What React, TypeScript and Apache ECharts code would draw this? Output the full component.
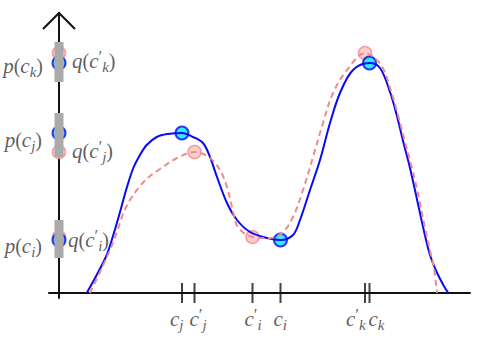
import React, { useEffect, useRef } from "react";
import * as echarts from "echarts";

// Marked x positions on the horizontal axis (c_j, c'_j, c'_i, c_i, c'_k, c_k)
const tickLabels = [
  "{m|c}{s|j}",
  "{m|c}{pr|′}{s|j}",
  "{m|c}{pr|′}{s|i}",
  "{m|c}{s|i}",
  "{m|c}{pr|′}{s|k}",
  "{m|c}{s|k}",
];
const tickX = [12.3, 13.55, 19.35, 22.15, 30.6, 31.05];

// p evaluated at c_j, c_i, c_k
const pX = [12.3, 22.15, 31.05];
const pY = [16.0, 5.3, 23.0];
const pLabels = ["{m|p}{r|(}{m|c}{s|j}{r|)}", "{m|p}{r|(}{m|c}{s|i}{r|)}", "{m|p}{r|(}{m|c}{s|k}{r|)}"];

// q evaluated at c'_j, c'_i, c'_k
const qX = [13.55, 19.35, 30.6];
const qY = [14.1, 5.6, 24.0];
const qLabels = [
  "{m|q}{r|(}{m|c}{pr|′}{s|j}{r|)}",
  "{m|q}{r|(}{m|c}{pr|′}{s|i}{r|)}",
  "{m|q}{r|(}{m|c}{pr|′}{s|k}{r|)}",
];

// gray intervals on the vertical axis [low, high]
const grayBars = [
  [13.6, 18.0],
  [3.5, 7.3],
  [21.1, 25.1],
];

// curve p (blue solid)
const pCurve: [number, number][] = [
  [2.77, 0], [3.77, 1.8], [4.77, 3.8], [5.43, 5.8], [6.1, 8.1], [6.77, 10.5],
  [7.43, 12.5], [8.1, 13.8], [8.77, 14.8], [9.77, 15.6], [10.9, 15.9],
  [12.3, 16.0], [13.4, 15.6], [14.4, 15.0], [15.1, 13.6], [15.8, 11.6],
  [16.8, 9.0], [17.8, 7.3], [19.1, 6.1], [20.8, 5.5], [22.15, 5.3],
  [23.4, 5.8], [24.1, 7.3], [25.1, 10.3], [26.1, 13.3], [27.1, 17.0],
  [28.1, 20.0], [29.4, 22.3], [31.05, 23.0], [32.1, 22.5], [33.1, 20.1],
  [33.77, 17.8], [34.43, 15.1], [35.1, 12.5], [35.77, 9.5], [36.43, 6.5],
  [37.1, 3.8], [37.77, 2.1], [38.43, 0.8], [38.93, 0],
];

// curve q (pink dashed)
const qCurve: [number, number][] = [
  [3.1, 0], [4.1, 2.1], [5.1, 4.3], [5.8, 6.1], [6.4, 7.9], [7.1, 9.3],
  [8.1, 10.7], [9.1, 11.7], [10.1, 12.4], [11.8, 13.5], [13.55, 14.1],
  [15.1, 13.5], [16.1, 12.3], [16.8, 10.6], [17.3, 8.6], [17.9, 6.6],
  [19.35, 5.6], [21.1, 5.5], [22.4, 6.1], [23.4, 7.6], [24.4, 10.3],
  [25.4, 13.6], [26.4, 17.0], [27.4, 20.0], [28.8, 22.3], [30.6, 24.0],
  [32.2, 22.8], [33.2, 20.2], [33.9, 17.8], [34.6, 15.1], [35.3, 12.5],
  [36.0, 9.5], [36.6, 6.5], [37.2, 3.8], [37.5, 2.5], [37.8, 0],
];

// label placement (pixels relative to the mark)
const tickLabelShift = [-12, -5, -8, -7, -19, -1];
const pLabelShift = [[-17, 7], [-17, 6], [-16, 3]];
const qLabelShift = [[13, -1], [9, 3], [13, 8]];

const FONT = "Liberation Serif";
const rich = {
  m: { fontFamily: FONT, fontStyle: "italic", fontSize: 21, color: "#333" },
  r: { fontFamily: FONT, fontSize: 20, color: "#333" },
  s: { fontFamily: FONT, fontStyle: "italic", fontSize: 15, color: "#333", padding: [12, 0, 0, 0] },
  pr: { fontFamily: FONT, fontSize: 17, color: "#333", padding: [0, 0, 10, 0] },
};

const BLUE = "#0a0af0";
const CYAN = "#00e5ff";
const PINK = "#f28a8a";
const PINK_FILL = "#f9c2c2";

export default function App() {
  const ref = useRef<HTMLDivElement>(null);
  useEffect(() => {
    if (!ref.current) return;
    const chart = echarts.init(ref.current, null, { renderer: "svg" });
    const series: any[] = [];
    grayBars.forEach((b) => {
      series.push({
        type: "line",
        data: [[0, b[0]], [0, b[1]]],
        symbol: "none",
        lineStyle: { color: "#aaaaaa", width: 9, cap: "butt" },
        silent: true,
      });
    });
    series.push({
      type: "line",
      data: pCurve,
      smooth: 0.35,
      symbol: "none",
      lineStyle: { color: BLUE, width: 2 },
      silent: true,
    });
    series.push({
      type: "line",
      data: qCurve,
      smooth: 0.35,
      symbol: "none",
      lineStyle: { color: PINK, width: 2, type: [6, 4] },
      silent: true,
    });
    // pink points (curve + projected on axis)
    series.push({
      type: "scatter",
      symbolSize: 13,
      itemStyle: { color: PINK_FILL, borderColor: PINK, borderWidth: 1.5 },
      data: [
        ...qX.map((x, i) => [x, qY[i]]),
        ...qY.map((y, i) => ({
          value: [0, y],
          label: {
            show: true,
            position: "inside",
            align: "left",
            verticalAlign: "middle",
            offset: qLabelShift[i],
            formatter: qLabels[i],
            rich,
          },
        })),
      ],
      silent: true,
    });
    // blue points
    series.push({
      type: "scatter",
      symbolSize: 13,
      itemStyle: { color: CYAN, borderColor: BLUE, borderWidth: 2 },
      data: [
        ...pX.map((x, i) => [x, pY[i]]),
        ...pY.map((y, i) => ({
          value: [0, y],
          label: {
            show: true,
            position: "inside",
            align: "right",
            verticalAlign: "middle",
            offset: pLabelShift[i],
            formatter: pLabels[i],
            rich,
          },
        })),
      ],
      silent: true,
    });
    // axis ticks at c's
    series.push({
      type: "scatter",
      symbol: "rect",
      symbolSize: [2, 20],
      itemStyle: { color: "#111" },
      data: tickX.map((x, i) => ({
        value: [x, 0],
        label: {
          show: true,
          position: "inside",
          align: "left",
          verticalAlign: "middle",
          offset: [tickLabelShift[i], 26],
          formatter: tickLabels[i],
          rich,
        },
      })),
      silent: true,
    });

    chart.setOption({
      animation: false,
      grid: { left: 49, right: 17, top: 13, bottom: 47 },
      xAxis: {
        type: "value",
        min: -1,
        max: 41.1,
        axisLine: { onZero: true, lineStyle: { color: "#111", width: 2 } },
        axisTick: { show: false },
        axisLabel: { show: false },
        splitLine: { show: false },
      },
      yAxis: {
        type: "value",
        min: -0.5,
        max: 28,
        axisLine: { show: true, onZero: true, lineStyle: { color: "#111", width: 2 } },
        axisTick: { show: false },
        axisLabel: { show: false },
        splitLine: { show: false },
      },
      series,
    });
    const tip = chart.convertToPixel({ gridIndex: 0 }, [0, 28]) as number[];
    chart.setOption({
      graphic: [
        {
          type: "polyline",
          shape: { points: [[tip[0] - 16, tip[1] + 16], [tip[0], tip[1]], [tip[0] + 16, tip[1] + 16]] },
          style: { stroke: "#111", lineWidth: 2, fill: null },
        },
      ],
    });
    return () => chart.dispose();
  }, []);
  return <div ref={ref} style={{ width: 487, height: 345, position: "absolute", left: 0, top: 0 }} />;
}
